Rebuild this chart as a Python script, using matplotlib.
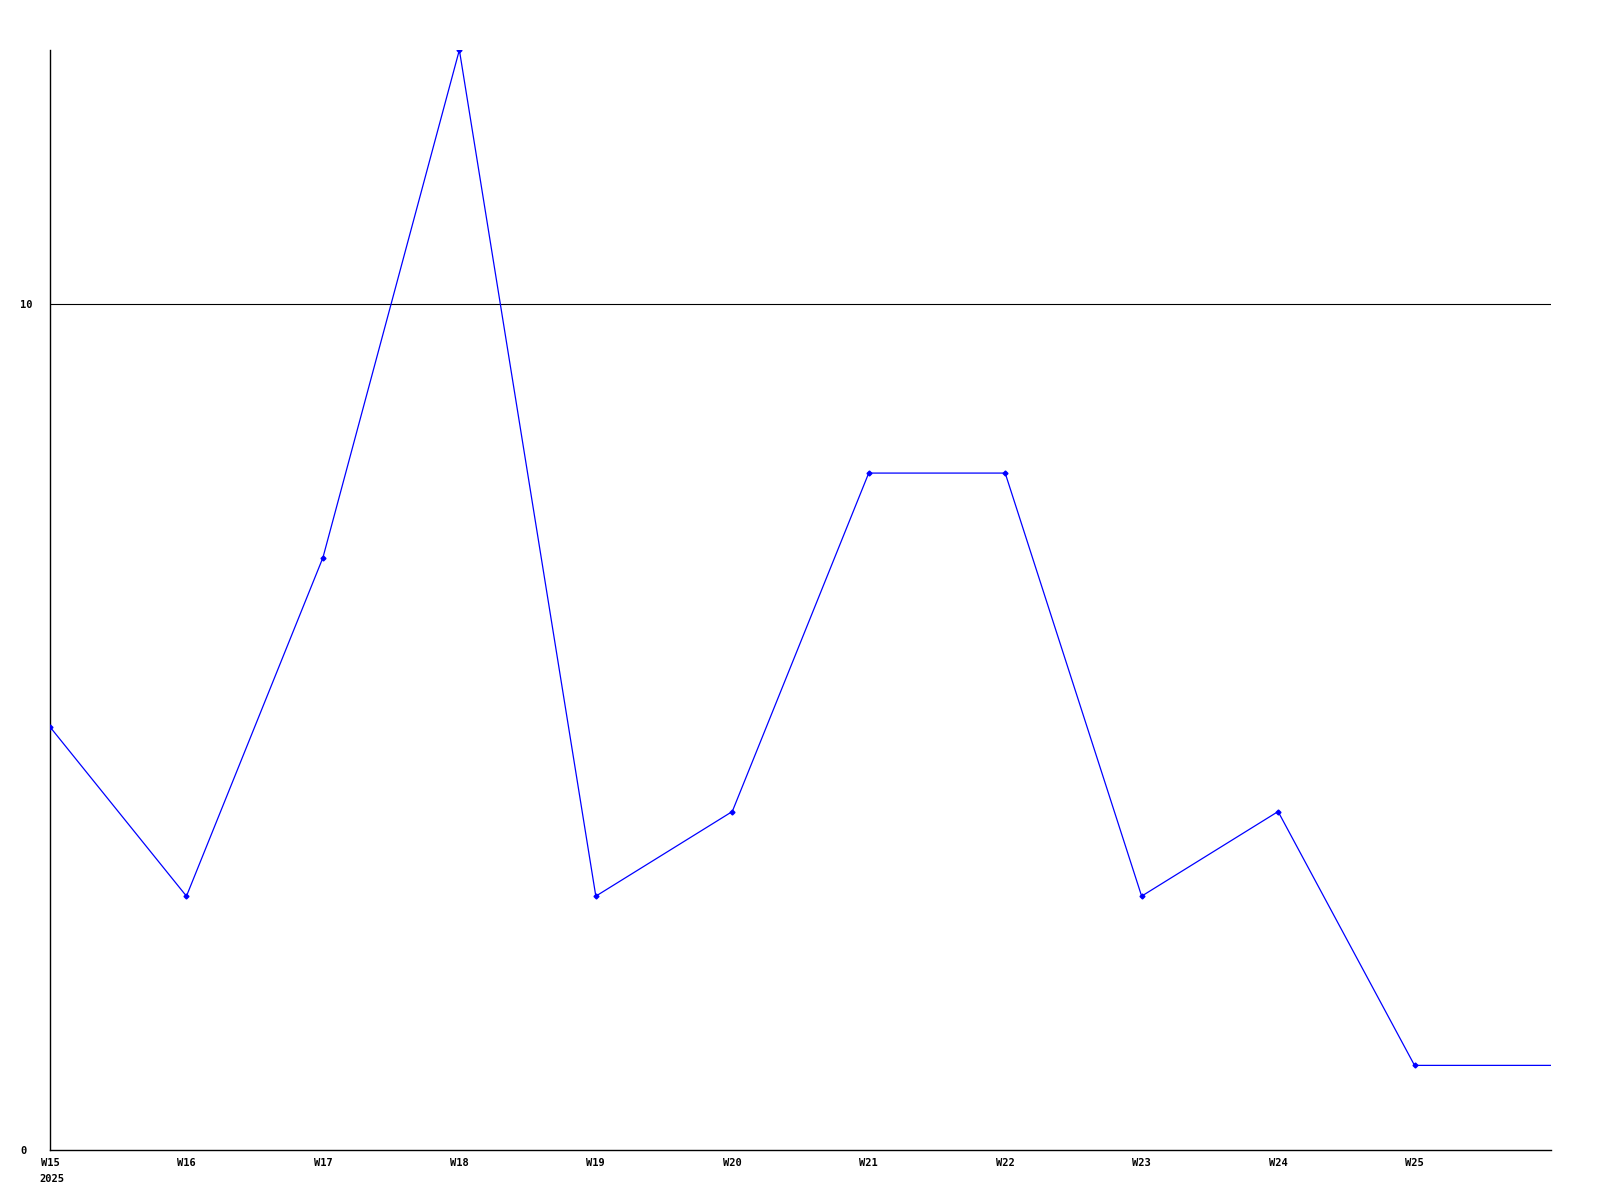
import matplotlib
matplotlib.use("Agg")
import matplotlib.pyplot as plt

# weekly counts, 2025 (last point is the open week after W25)
weeks = [15, 16, 17, 18, 19, 20, 21, 22, 23, 24, 25, 26]
values = [5, 3, 7, 13, 3, 4, 8, 8, 3, 4, 1, 1]
week_labels = ["W15", "W16", "W17", "W18", "W19", "W20", "W21", "W22", "W23", "W24", "W25"]
y_ticks = [0, 10]
year_label = "2025"

plt.rcParams['font.family'] = ['DejaVu Sans Mono']

fig = plt.figure(figsize=(16, 12), dpi=100)
ax = fig.add_axes([50 / 1600, 50 / 1200, 1501 / 1600, 1100 / 1200])

# gridline at 10 only
for yt in y_ticks[1:]:
    ax.axhline(yt, color='black', linewidth=0.8, zorder=1)

ax.plot(weeks, values, color='#0000ff', linewidth=0.9, zorder=3)
ax.plot(weeks[:-1], values[:-1], linestyle='none', marker='D', markersize=2.5,
        color='#0000ff', zorder=4)

ax.set_xlim(weeks[0], weeks[-1])
ax.set_ylim(0, 13)

ax.set_xticks(weeks[:-1])
ax.set_xticklabels(week_labels, fontsize=7.5, fontweight='bold')
ax.set_yticks(y_ticks)
ax.set_yticklabels([str(v) for v in y_ticks], fontsize=7.5, fontweight='bold', ha='left')
ax.tick_params(axis='x', length=0, pad=6)
ax.tick_params(axis='y', length=0, pad=21.6)

ax.annotate(year_label, xy=(weeks[0], 0), xycoords=('data', 'axes fraction'),
            xytext=(-7.5, -17), textcoords='offset points', ha='left', va='top',
            fontsize=7.5, fontweight='bold')

for side in ['top', 'right']:
    ax.spines[side].set_visible(False)
for side in ['left', 'bottom']:
    ax.spines[side].set_linewidth(1.0)
    ax.spines[side].set_color('black')

fig.savefig("out.png", dpi=100)
